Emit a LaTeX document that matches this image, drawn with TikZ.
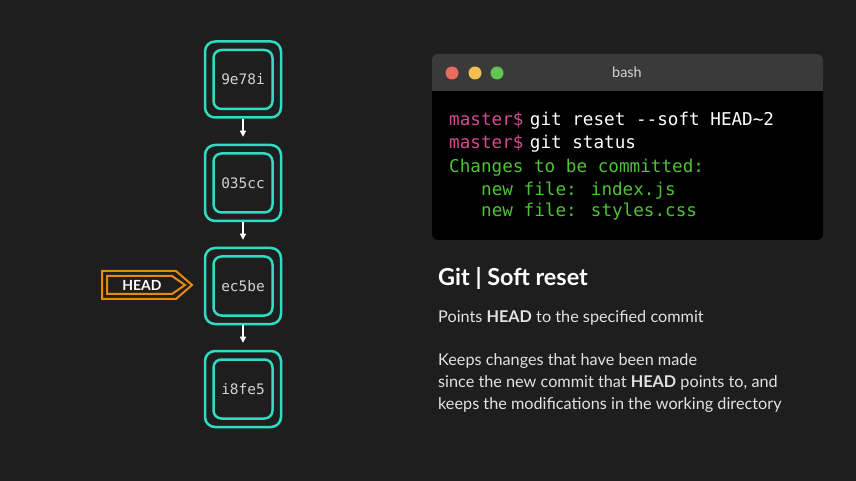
\documentclass[tikz,border=0pt]{standalone}
\usepackage{fontspec}
\setmainfont{Lato}
\newfontfamily\monof{DejaVu Sans Mono}
\usetikzlibrary{arrows.meta}
\definecolor{bgc}{HTML}{1E1E1E}
\definecolor{commitc}{HTML}{2FDCC3}
\definecolor{hashc}{HTML}{D2D2D2}
\definecolor{orangec}{HTML}{E88A0E}
\definecolor{titlebarc}{HTML}{3A3A3A}
\definecolor{pinkc}{HTML}{D24C93}
\definecolor{greenc}{HTML}{4FC337}
\definecolor{bodyc}{HTML}{E2E2E2}
\definecolor{redc}{HTML}{EC6A5E}
\definecolor{yellowc}{HTML}{F4BF4F}
\definecolor{lightgreenc}{HTML}{61C554}
\tikzset{
  commitout/.style={draw=commitc, line width=2.5bp, rounded corners=10bp, minimum width=76bp, minimum height=76bp, inner sep=0pt},
  commitin/.style={draw=commitc, line width=2.5bp, rounded corners=8bp, minimum width=59bp, minimum height=59bp, inner sep=0pt, text=hashc, font=\monof\fontsize{14.5}{16}\selectfont},
  commitarrow/.style={draw=white, line width=1.2bp, -{Triangle[width=6bp,length=6bp]}, shorten >=7bp},
  termtext/.style={anchor=base west, inner sep=0pt, font=\monof\fontsize{17.7}{20}\selectfont},
  bodytext/.style={anchor=base west, inner sep=0pt, text=bodyc, font=\fontsize{16.3}{20}\selectfont},
  light/.style={circle, minimum size=13bp, inner sep=0pt},
  tagline/.style={draw=orangec, line width=2bp, line join=miter}
}
\begin{document}
\begin{tikzpicture}[x=1bp,y=-1bp]
\fill[bgc] (0,0) rectangle (856,481);
\useasboundingbox (0,0) rectangle (856,481);

% commits
\node[commitout] (c1) at (243,79.5) {};
\node[commitin] (c1i) at (c1) {9e78i};
\node[commitout] (c2) at (243,183) {};
\node[commitin] (c2i) at (c2) {035cc};
\node[commitout] (c3) at (243,286) {};
\node[commitin] (c3i) at (c3) {ec5be};
\node[commitout] (c4) at (243,389) {};
\node[commitin] (c4i) at (c4) {i8fe5};
\draw[commitarrow] (c1) -- (c2);
\draw[commitarrow] (c2) -- (c3);
\draw[commitarrow] (c3) -- (c4);

% HEAD tag
\draw[tagline] (102,271) -- (176,271) -- (192,285) -- (176,299) -- (102,299) -- cycle;
\draw[tagline] (107,276) -- (172,276) -- (185,285) -- (172,294) -- (107,294) -- cycle;
\node[text=white, font=\bfseries\fontsize{14}{16}\selectfont, inner sep=0pt] (head) at (142,285) {HEAD};

% terminal
\fill[black, rounded corners=6bp] (432,80) rectangle (823,240);
\fill[titlebarc, rounded corners=6bp] (432,54) rectangle (823,91);
\fill[titlebarc] (432,80) rectangle (823,91);
\node[light, fill=redc] (red) at (452,73) {};
\node[light, fill=yellowc] (yellow) at (475,73) {};
\node[light, fill=lightgreenc] (green) at (497,73) {};
\node[text=hashc, font=\fontsize{14.5}{16}\selectfont] (bash) at (627,72) {bash};

\node[termtext, text=pinkc] (p1) at (449,126) {master\$};
\node[termtext, text=white] (l1) at ([xshift=6bp]p1.base east) {git reset -{}-soft HEAD\textasciitilde2};
\node[termtext, text=pinkc] (p2) at (449,149) {master\$};
\node[termtext, text=white] (l2) at ([xshift=6bp]p2.base east) {git status};
\node[termtext, text=greenc] (l3) at (449,173) {Changes to be committed:};
\node[termtext, text=greenc] (l4) at (481,196) {new file: index.js};
\node[termtext, text=greenc] (l5) at (481,217) {new file: styles.css};

% description
\node[anchor=base west, inner sep=0pt, text=white, font=\bfseries\fontsize{23.5}{27}\selectfont] (title) at (438,286) {Git | Soft reset};
\node[bodytext] (d1) at (438,323) {Points \textbf{HEAD} to the specified commit};
\node[bodytext] (d2) at (438,365) {Keeps changes that have been made};
\node[bodytext] (d3) at (438,387) {since the new commit that \textbf{HEAD} points to, and};
\node[bodytext] (d4) at (438,409) {keeps the modifications in the working directory};
\end{tikzpicture}
\end{document}
